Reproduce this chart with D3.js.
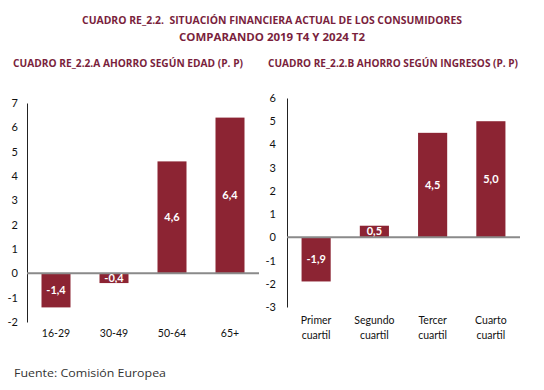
<!DOCTYPE html>
<html><head><meta charset="utf-8">
<script src="https://cdn.jsdelivr.net/npm/d3@7"></script>
<style>body{margin:0;background:#fff}svg{display:block}</style>
</head><body>
<svg id="c" width="544" height="390"></svg>
<script>
const ageCats = ["16-29","30-49","50-64","65+"];
const ageVals = [-1.4,-0.4,4.6,6.4];
const ageTicks = [-2,-1,0,1,2,3,4,5,6,7];
const incCats = ["Primer cuartil","Segundo cuartil","Tercer cuartil","Cuarto cuartil"];
const incVals = [-1.9,0.5,4.5,5.0];
const incTicks = [-3,-2,-1,0,1,2,3,4,5,6];
const titles = ["CUADRO RE_2.2.  SITUACIÓN FINANCIERA ACTUAL DE LOS CONSUMIDORES","COMPARANDO 2019 T4 Y 2024 T2"];
const subtitles = ["CUADRO RE_2.2.A AHORRO SEGÚN EDAD (P. P)","CUADRO RE_2.2.B AHORRO SEGÚN INGRESOS (P. P)"];
const source = "Fuente: Comisión Europea";

const svg = d3.select("#c");
const barColor = "#8c2433", titleColor = "#7a1f3d";
const tf = "'Open Sans', 'DejaVu Sans', sans-serif";
const lf = "Lato, 'Open Sans', sans-serif";

svg.append("text").attr("x",272).attr("y",24).attr("text-anchor","middle")
  .attr("font-family",tf).attr("font-weight",700).attr("font-size",10.2).attr("fill",titleColor)
  .attr("textLength",380).attr("lengthAdjust","spacingAndGlyphs").attr("xml:space","preserve").text(titles[0]);
svg.append("text").attr("x",272).attr("y",41).attr("text-anchor","middle")
  .attr("font-family",tf).attr("font-weight",700).attr("font-size",10.2).attr("fill",titleColor)
  .attr("textLength",186).attr("lengthAdjust","spacingAndGlyphs").text(titles[1]);
svg.append("text").attr("x",13).attr("y",67)
  .attr("font-family",tf).attr("font-weight",700).attr("font-size",10.2).attr("fill",titleColor)
  .attr("textLength",230).attr("lengthAdjust","spacingAndGlyphs").text(subtitles[0]);
svg.append("text").attr("x",268).attr("y",67)
  .attr("font-family",tf).attr("font-weight",700).attr("font-size",10.2).attr("fill",titleColor)
  .attr("textLength",250).attr("lengthAdjust","spacingAndGlyphs").text(subtitles[1]);

function panel(cats, vals, ticks, x0, x1, yTop, yBot, labelX, xLabY){
  const g = svg.append("g");
  const y = d3.scaleLinear().domain([ticks[0], ticks[ticks.length-1]]).range([yBot, yTop]);
  const x = d3.scaleBand().domain(cats).range([x0, x1]).paddingInner(0.5).paddingOuter(0.25);
  const ax = g.append("g").attr("transform",`translate(${x0},0)`)
    .call(d3.axisLeft(y).tickValues(ticks).tickSize(0).tickPadding(0).tickFormat(d3.format("d")));
  ax.select(".domain").attr("stroke","#222").attr("stroke-width",1);
  ax.selectAll("text").attr("x", labelX - x0).attr("font-family",lf).attr("font-size",11).attr("fill","#111")
    .text(d => d<0 ? "-" + Math.abs(d) : d);
  g.selectAll("rect").data(vals).join("rect")
    .attr("x",(d,i)=>x(cats[i])).attr("width",x.bandwidth())
    .attr("y",d=>y(Math.max(0,d))).attr("height",d=>Math.abs(y(d)-y(0)))
    .attr("fill",barColor);
  g.append("line").attr("x1",x0).attr("x2",x1).attr("y1",y(0)).attr("y2",y(0))
    .attr("stroke","#8a8a8a").attr("stroke-width",2);
  g.selectAll("text.v").data(vals).join("text").attr("class","v")
    .attr("x",(d,i)=>x(cats[i])+x.bandwidth()/2)
    .attr("y",d=>(y(d)+y(0))/2).attr("dy","0.36em").attr("text-anchor","middle")
    .attr("font-family",lf).attr("font-weight",700).attr("font-size",11).attr("fill","#fff")
    .text(d=>d3.format(".1f")(d).replace(".",",").replace("−","-"));
  cats.forEach((c,i)=>{
    const words = c.split(" ");
    const t = g.append("text").attr("text-anchor","middle").attr("font-family",lf).attr("font-size",10.5).attr("fill","#111");
    words.forEach((w,j)=>t.append("tspan").attr("x",x(c)+x.bandwidth()/2).attr("y",xLabY + j*15).text(w));
  });
}
panel(ageCats, ageVals, ageTicks, 27, 259, 103, 322, 18, 337);
panel(incCats, incVals, incTicks, 287, 520, 98, 307, 276, 324);

svg.append("text").attr("x",14).attr("y",377).attr("font-family","'Open Sans', sans-serif")
  .attr("font-size",11).attr("fill","#333").attr("textLength",152).attr("lengthAdjust","spacingAndGlyphs").text(source);
</script>
</body></html>
